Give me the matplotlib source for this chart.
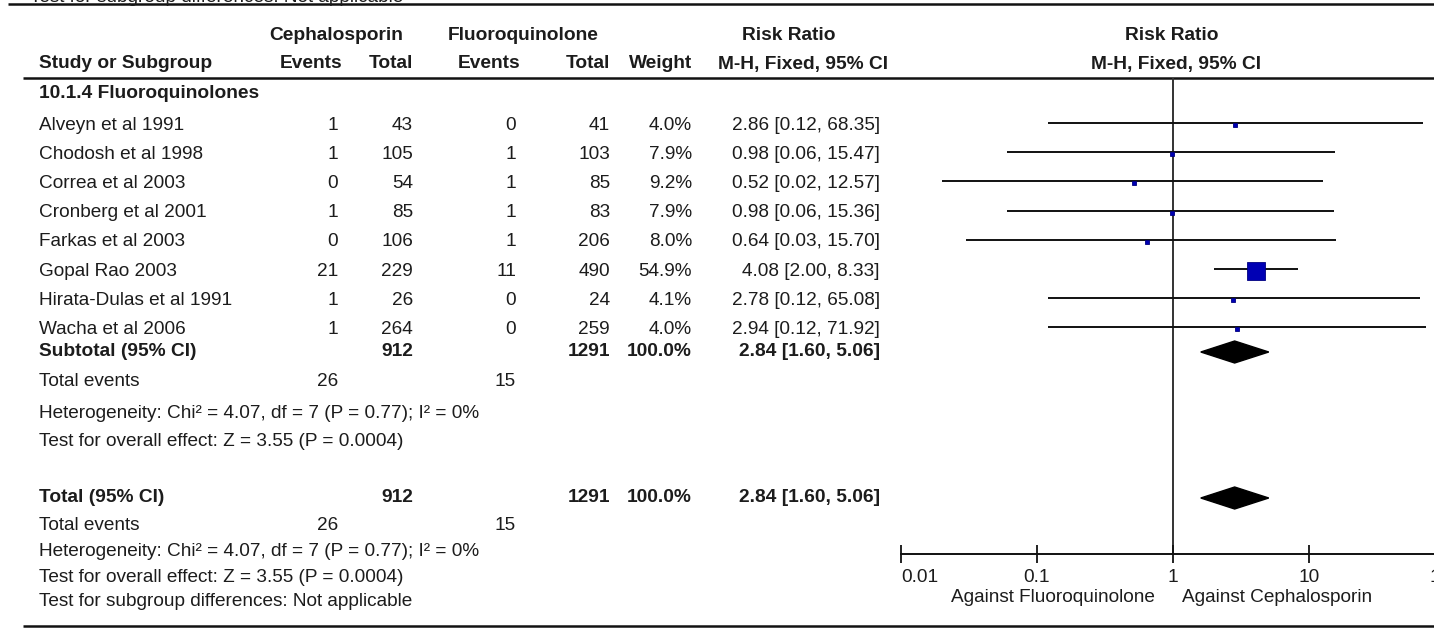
import matplotlib
matplotlib.use("Agg")
import matplotlib.pyplot as plt

# ---- data -------------------------------------------------------------
group_label = "10.1.4 Fluoroquinolones"
studies = ["Alveyn et al 1991", "Chodosh et al 1998", "Correa et al 2003",
           "Cronberg et al 2001", "Farkas et al 2003", "Gopal Rao 2003",
           "Hirata-Dulas et al 1991", "Wacha et al 2006"]
ceph_events = [1, 1, 0, 1, 0, 21, 1, 1]
ceph_total = [43, 105, 54, 85, 106, 229, 26, 264]
fluoro_events = [0, 1, 1, 1, 1, 11, 0, 0]
fluoro_total = [41, 103, 85, 83, 206, 490, 24, 259]
weights = [4.0, 7.9, 9.2, 7.9, 8.0, 54.9, 4.1, 4.0]
rr = [2.86, 0.98, 0.52, 0.98, 0.64, 4.08, 2.78, 2.94]
ci_low = [0.12, 0.06, 0.02, 0.06, 0.03, 2.00, 0.12, 0.12]
ci_high = [68.35, 15.47, 12.57, 15.36, 15.70, 8.33, 65.08, 71.92]

pooled = [2.84, 1.60, 5.06]
sum_ceph_total, sum_fluoro_total = 912, 1291
sum_ceph_events, sum_fluoro_events = 26, 15
heterogeneity = "Heterogeneity: Chi\u00b2 = 4.07, df = 7 (P = 0.77); I\u00b2 = 0%"
overall_test = "Test for overall effect: Z = 3.55 (P = 0.0004)"
subgroup_test = "Test for subgroup differences: Not applicable"

axis_ticks = [0.01, 0.1, 1, 10, 100]
axis_ticklabels = ["0.01", "0.1", "1", "10", "100"]
favours_left = "Against Fluoroquinolone"
favours_right = "Against Cephalosporin"

# ---- layout (pixel units) ---------------------------------------------
W, H = 1434, 629
FONT = "Liberation Sans"
FS = 13.7
FSB = 13.8
TXT = "#1c1c1c"

x_name = 39
x_ce, x_ct, x_fe, x_ft, x_w, x_rr = 338, 413, 516, 610, 692, 880

y_h1, y_h2, y_rule = 36, 64, 78
y_group = 93
y_row0, row_step = 123, 29.2
y_sub, y_te1, y_het1, y_ov1 = 352, 382, 413, 442
y_tot, y_te2, y_het2, y_ov2, y_sg = 498, 526, 552, 577, 602
y_bottom = 626
y_axis = 554

fig = plt.figure(figsize=(W / 100, H / 100), dpi=100)
ax = fig.add_axes([0, 0, 1, 1])
ax.set_xlim(0, W)
ax.set_ylim(H, 0)
ax.axis("off")


def put(x, y, s, ha="left", bold=False):
    ax.text(x, y, s, ha=ha, va="center", fontsize=FSB if bold else FS,
            fontweight="bold" if bold else "normal", family=FONT, color=TXT)


# rules
ax.plot([8, W], [4, 4], color="#111111", lw=1.8, solid_capstyle="butt")
ax.plot([23, W], [y_rule, y_rule], color="#111111", lw=1.8, solid_capstyle="butt")
ax.plot([23, W], [y_bottom, y_bottom], color="#111111", lw=1.8, solid_capstyle="butt")

# footer of the preceding panel, mostly cut off at the top edge
ax.text(30, 2.0, subgroup_test, ha="left", va="baseline", fontsize=FS,
        family=FONT, color=TXT)

# headers
put(336, y_h1, "Cephalosporin", ha="center", bold=True)
put(523, y_h1, "Fluoroquinolone", ha="center", bold=True)
put(789, y_h1, "Risk Ratio", ha="center", bold=True)
put(1172, y_h1, "Risk Ratio", ha="center", bold=True)
put(x_name, y_h2, "Study or Subgroup", bold=True)
put(342, y_h2, "Events", ha="right", bold=True)
put(x_ct, y_h2, "Total", ha="right", bold=True)
put(520, y_h2, "Events", ha="right", bold=True)
put(x_ft, y_h2, "Total", ha="right", bold=True)
put(x_w, y_h2, "Weight", ha="right", bold=True)
put(803, y_h2, "M-H, Fixed, 95% CI", ha="center", bold=True)
put(1176, y_h2, "M-H, Fixed, 95% CI", ha="center", bold=True)

put(x_name, y_group, group_label, bold=True)

row_y = [y_row0 + row_step * i for i in range(len(studies))]
for i, name in enumerate(studies):
    y = row_y[i] + 2
    put(x_name, y, name)
    put(x_ce, y, str(ceph_events[i]), ha="right")
    put(x_ct, y, str(ceph_total[i]), ha="right")
    put(x_fe, y, str(fluoro_events[i]), ha="right")
    put(x_ft, y, str(fluoro_total[i]), ha="right")
    put(x_w, y, f"{weights[i]:.1f}%", ha="right")
    put(x_rr, y, f"{rr[i]:.2f} [{ci_low[i]:.2f}, {ci_high[i]:.2f}]", ha="right")

pooled_txt = f"{pooled[0]:.2f} [{pooled[1]:.2f}, {pooled[2]:.2f}]"
total_w = f"{sum(weights):.1f}%"
for ylab, label in [(y_sub, "Subtotal (95% CI)"), (y_tot, "Total (95% CI)")]:
    put(x_name, ylab, label, bold=True)
    put(x_ct, ylab, str(sum_ceph_total), ha="right", bold=True)
    put(x_ft, ylab, str(sum_fluoro_total), ha="right", bold=True)
    put(x_w, ylab, total_w, ha="right", bold=True)
    put(x_rr, ylab, pooled_txt, ha="right", bold=True)

for yte, yhet, yov in [(y_te1, y_het1, y_ov1), (y_te2, y_het2, y_ov2)]:
    put(x_name, yte, "Total events")
    put(x_ce, yte, str(sum_ceph_events), ha="right")
    put(x_fe, yte, str(sum_fluoro_events), ha="right")
    put(x_name, yhet, heterogeneity)
    put(x_name, yov, overall_test)
put(x_name, y_sg, subgroup_test)

# ---- forest panel -----------------------------------------------------
fx0, fx1 = 901, 1445
fa = fig.add_axes([fx0 / W, 1 - y_axis / H, (fx1 - fx0) / W, (y_axis - y_rule) / H])
fa.set_xscale("log")
fa.set_xlim(axis_ticks[0], axis_ticks[-1])
fa.set_ylim(y_axis, y_rule)
fa.patch.set_alpha(0)
for side in ["top", "right", "left"]:
    fa.spines[side].set_visible(False)
fa.spines["bottom"].set_linewidth(1.4)
fa.spines["bottom"].set_color("#111111")
fa.set_yticks([])
fa.minorticks_off()
fa.set_xticks(axis_ticks)
fa.set_xticklabels(axis_ticklabels, family=FONT, fontsize=FS, color=TXT)
fa.tick_params(axis="x", direction="inout", length=13, width=1.3,
               color="#111111", pad=4)
fa.get_xticklabels()[0].set_horizontalalignment("left")

fa.axvline(1, color="#333333", lw=1.4, zorder=1)

max_w = max(weights)
for i in range(len(studies)):
    y = row_y[i]
    fa.plot([ci_low[i], ci_high[i]], [y, y], color="#111111", lw=1.4,
            solid_capstyle="butt", zorder=2)
    side_px = max(4.5, 18.0 * weights[i] / max_w)
    fa.plot([rr[i]], [y + 2], marker="s", ms=side_px * 0.72,
            color="#0000b4", mec="#000080", mew=0.6, zorder=3)

half_h = 11
for yd in (y_sub, y_tot):
    est, lo, hi = pooled
    fa.fill([lo, est, hi, est], [yd, yd - half_h, yd, yd + half_h],
            color="black", zorder=3)

ax.text(1155, 598, favours_left, ha="right", va="center", fontsize=FS,
        family=FONT, color=TXT)
ax.text(1182, 598, favours_right, ha="left", va="center", fontsize=FS,
        family=FONT, color=TXT)

fig.savefig("out.png", dpi=100)
